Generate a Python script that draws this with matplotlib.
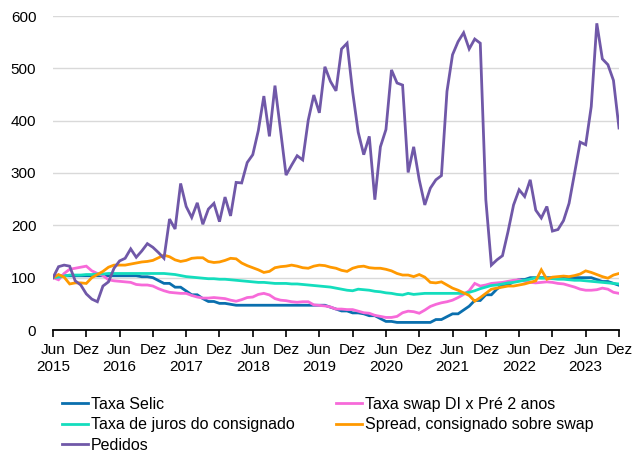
import matplotlib
matplotlib.use("Agg")
import matplotlib.pyplot as plt

plt.rcParams['font.family'] = ['Liberation Sans', 'DejaVu Sans']

# Monthly data, Jun 2015 - Dez 2023 (index, Jun 2015 = 100)
selic = [100.0, 103.6, 103.6, 103.6, 103.6, 103.6, 103.6, 103.6, 103.6, 103.6,
         103.6, 103.6, 103.6, 103.6, 103.6, 103.6, 101.8, 101.8, 100.0, 94.5,
         89.1, 89.1, 81.8, 81.8, 74.5, 67.3, 67.3, 60.0, 54.5, 54.5,
         50.9, 50.9, 49.1, 47.3, 47.3, 47.3, 47.3, 47.3, 47.3, 47.3,
         47.3, 47.3, 47.3, 47.3, 47.3, 47.3, 47.3, 47.3, 47.3, 47.3,
         43.6, 40.0, 36.4, 36.4, 32.7, 32.7, 30.9, 27.3, 27.3, 21.8,
         16.4, 16.4, 14.5, 14.5, 14.5, 14.5, 14.5, 14.5, 14.5, 20.0,
         20.0, 25.5, 30.9, 30.9, 38.2, 45.5, 56.4, 56.4, 67.3, 67.3,
         78.2, 85.5, 85.5, 92.7, 96.4, 96.4, 100.0, 100.0, 100.0, 100.0,
         100.0, 100.0, 100.0, 100.0, 100.0, 100.0, 100.0, 100.0, 96.4, 92.7,
         92.7, 89.1, 85.5]

swap = [100, 96, 108, 116, 118, 120, 122, 113, 108, 104,
        96, 94, 93, 92, 91, 87, 86, 86, 84, 79,
        75, 72, 71, 70, 70, 66, 63, 61, 61, 62,
        61, 60, 57, 55, 58, 62, 63, 68, 70, 67,
        60, 57, 56, 54, 53, 54, 54, 48, 47, 46,
        44, 40, 40, 39, 39, 36, 33, 32, 28, 26,
        24, 24, 26, 33, 36, 35, 32, 38, 45, 49,
        52, 54, 57, 62, 68, 75, 89, 84, 86, 89,
        90, 91, 93, 95, 96, 93, 91, 90, 91, 92,
        91, 89, 88, 85, 82, 78, 76, 76, 77, 80,
        78, 72, 70]

consignado = [100, 101, 103, 105, 105, 105, 106, 106, 107, 107,
              108, 108, 108, 108, 108, 108, 108, 108, 108, 108,
              108, 107, 106, 104, 102, 101, 100, 99, 98, 98,
              97, 97, 96, 95, 94, 93, 92, 91, 91, 90,
              89, 89, 89, 88, 88, 87, 86, 85, 84, 83,
              82, 80, 78, 76, 75, 78, 77, 76, 74, 73,
              71, 70, 68, 67, 70, 68, 69, 70, 70, 70,
              70, 70, 70, 70, 70, 72, 75, 79, 82, 85,
              86, 88, 90, 91, 93, 95, 97, 100, 99, 99,
              98, 97, 97, 96, 95, 95, 94, 93, 92, 91,
              90, 89, 88]

spread = [100, 106, 101, 88, 90, 90, 89, 100, 106, 112,
          120, 124, 124, 124, 126, 128, 130, 131, 133, 138,
          143, 140, 134, 131, 133, 137, 138, 138, 131, 129,
          130, 133, 137, 136, 128, 123, 119, 115, 110, 112,
          119, 121, 122, 124, 122, 119, 118, 122, 124, 123,
          120, 118, 114, 112, 118, 121, 122, 119, 118, 118,
          116, 113, 108, 105, 105, 102, 106, 101, 91, 90,
          92, 86, 80, 76, 71, 66, 55, 62, 70, 78,
          80, 82, 84, 84, 86, 88, 91, 94, 115, 97,
          101, 102, 103, 102, 104, 107, 113, 110, 106, 102,
          99, 105, 108]

pedidos = [100, 121, 124, 122, 94, 86, 69, 59, 54, 84,
           92, 118, 132, 137, 155, 139, 151, 165, 158, 148,
           137, 212, 193, 280, 236, 215, 243, 202, 231, 242,
           207, 254, 218, 282, 281, 320, 335, 381, 447, 370,
           467, 382, 296, 315, 333, 325, 401, 449, 415, 503,
           475, 457, 537, 548, 455, 378, 335, 370, 249, 350,
           383, 497, 472, 468, 301, 350, 287, 239, 271, 287,
           295, 456, 526, 551, 568, 537, 556, 548, 249, 124,
           134, 142, 188, 239, 268, 255, 287, 229, 214, 236,
           189, 192, 209, 242, 300, 359, 354, 427, 586, 518,
           507, 477, 386]

tick_labels = []
for year in range(2015, 2024):
    tick_labels.append(f"Jun\n{year}")
    tick_labels.append("Dez")

series = [
    ("Taxa Selic", selic, "#0a6fae"),
    ("Taxa swap DI x Pré 2 anos", swap, "#f76ad9"),
    ("Taxa de juros do consignado", consignado, "#14ddbd"),
    ("Spread, consignado sobre swap", spread, "#ff9900"),
    ("Pedidos", pedidos, "#7058a8"),
]

fig = plt.figure(figsize=(6.36, 4.54), dpi=100)
ax = fig.add_axes([53 / 636, 1 - 330 / 454, (619 - 53) / 636, (330 - 16) / 454])

handles = {}
for name, vals, col in series:
    x = list(range(len(vals)))
    (ln,) = ax.plot(x, vals, color=col, lw=2.0, label=name, solid_joinstyle='miter')
    handles[name] = ln

ax.set_xlim(0, len(pedidos) - 1)
ax.set_ylim(0, 600)
ax.set_yticks(range(0, 601, 100))
ax.set_xticks(range(0, len(pedidos), 6))
ax.set_xticklabels(tick_labels, fontsize=11, linespacing=1.3)
ax.tick_params(axis='y', length=0, pad=12, labelsize=11)
ax.tick_params(axis='x', length=5, width=1.2, direction='out', pad=4, color='black')
ax.grid(axis='y', color='#d9d9d9', lw=1.0)
ax.set_axisbelow(True)
for s in ['top', 'right', 'left']:
    ax.spines[s].set_visible(False)
ax.spines['bottom'].set_color('black')
ax.spines['bottom'].set_linewidth(1.3)

order = ["Taxa Selic", "Taxa de juros do consignado", "Pedidos",
         "Taxa swap DI x Pré 2 anos", "Spread, consignado sobre swap"]
fig.legend([handles[n] for n in order], order, ncol=2, loc='upper left',
           bbox_to_anchor=(62 / 636, 1 - 397 / 454), frameon=False,
           fontsize=11.5, handlelength=1.63, handletextpad=0.19,
           columnspacing=2.56, labelspacing=0.33, borderaxespad=0, borderpad=0)

fig.savefig("out.png", dpi=100)
